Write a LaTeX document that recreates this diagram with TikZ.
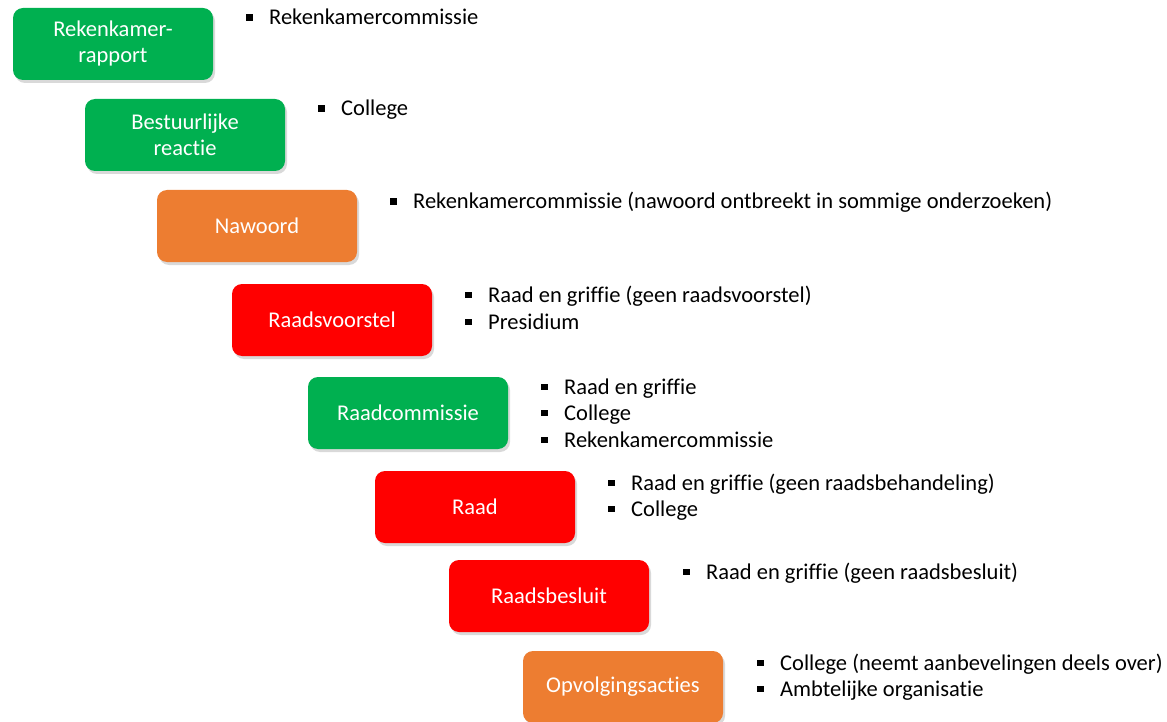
\documentclass[tikz,border=0pt]{standalone}
\usepackage{fontspec}
\setmainfont{Carlito}[Ligatures=NoCommon]
\usetikzlibrary{shadows}
\definecolor{stapgroen}{HTML}{00B050}
\definecolor{staporanje}{HTML}{ED7D31}
\definecolor{staprood}{HTML}{FF0000}
\newcommand{\blok}{\makebox[23pt][l]{\raisebox{4pt}{\rule{6.5pt}{6.5pt}}}}
\tikzset{
  stap/.style={rounded corners=10pt, minimum width=200pt, minimum height=72pt,
    align=center, text=white, font=\fontsize{22.5}{26}\selectfont,
    drop shadow={opacity=0.3, shadow xshift=2pt, shadow yshift=-3pt}},
  groen/.style={stap, fill=stapgroen},
  oranje/.style={stap, fill=staporanje},
  rood/.style={stap, fill=staprood},
  punt/.style={anchor=base west, inner sep=0pt, font=\fontsize{22.5}{26}\selectfont},
}
\begin{document}
\begin{tikzpicture}[x=1pt,y=-1pt]
        \useasboundingbox (0,0) rectangle (1167,722);
        % stappen
        \node[groen] (rapport) at (113,44) {Rekenkamer-\\rapport};
        \node[groen] (reactie) at (185,135) {Bestuurlijke\\reactie};
        \node[oranje] (nawoord) at (257,226) {Nawoord};
        \node[rood] (voorstel) at (332,320) {Raadsvoorstel};
        \node[groen] (commissie) at (408,413) {Raadcommissie};
        \node[rood] (raad) at (475,507) {Raad};
        \node[rood] (besluit) at (549,596) {Raadsbesluit};
        \node[oranje] (opvolging) at (623,687) {Opvolgingsacties};
        % betrokkenen
        \node[punt] (p1a) at (246,25) {\blok Rekenkamercommissie};
        \node[punt] (p2a) at (318,116) {\blok College};
        \node[punt] (p3a) at (390,209) {\blok Rekenkamercommissie (nawoord ontbreekt in sommige onderzoeken)};
        \node[punt] (p4a) at (465,302) {\blok Raad en griffie (geen raadsvoorstel)};
        \node[punt] (p4b) at (465,329) {\blok Presidium};
        \node[punt] (p5a) at (541,394) {\blok Raad en griffie};
        \node[punt] (p5b) at (541,420) {\blok College};
        \node[punt] (p5c) at (541,447) {\blok Rekenkamercommissie};
        \node[punt] (p6a) at (608,490) {\blok Raad en griffie (geen raadsbehandeling)};
        \node[punt] (p6b) at (608,516) {\blok College};
        \node[punt] (p7a) at (683,579) {\blok Raad en griffie (geen raadsbesluit)};
        \node[punt] (p8a) at (757,670) {\blok College (neemt aanbevelingen deels over)};
        \node[punt] (p8b) at (757,696) {\blok Ambtelijke organisatie};
\end{tikzpicture}
\end{document}
